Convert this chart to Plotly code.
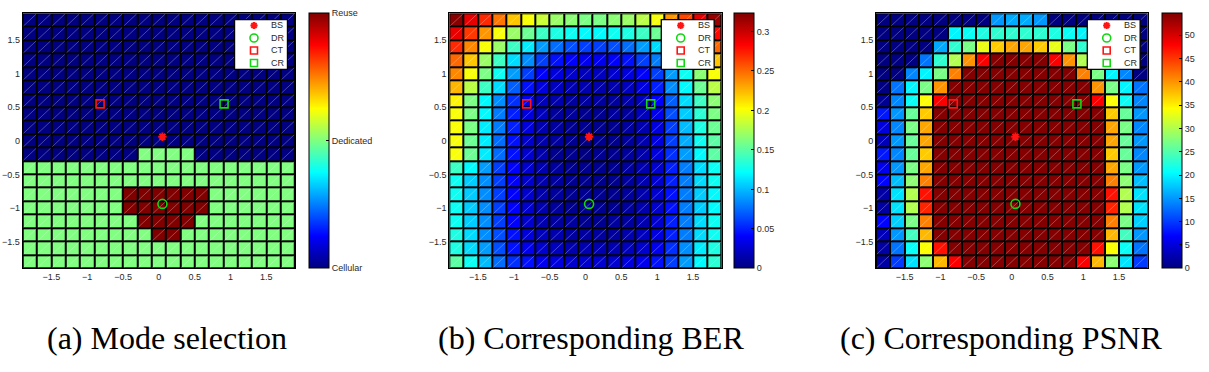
import plotly.graph_objects as go

W, H = 1209, 372

# ---------------- data ----------------
x_centers = [-1.8, -1.6, -1.4, -1.2, -1.0, -0.8, -0.6, -0.4, -0.2, 0.0,
             0.2, 0.4, 0.6, 0.8, 1.0, 1.2, 1.4, 1.6, 1.8]
y_centers = [1.8, 1.6, 1.4, 1.2, 1.0, 0.8, 0.6, 0.4, 0.2, 0.0,
             -0.2, -0.4, -0.6, -0.8, -1.0, -1.2, -1.4, -1.6, -1.8]
cell_size = 0.2

# 0 = Cellular, 1 = Dedicated, 2 = Reuse (rows from top y=1.8 to bottom y=-1.8)
mode_rows = [
    [0, 0, 0, 0, 0, 0, 0, 0, 0, 0, 0, 0, 0, 0, 0, 0, 0, 0, 0],
    [0, 0, 0, 0, 0, 0, 0, 0, 0, 0, 0, 0, 0, 0, 0, 0, 0, 0, 0],
    [0, 0, 0, 0, 0, 0, 0, 0, 0, 0, 0, 0, 0, 0, 0, 0, 0, 0, 0],
    [0, 0, 0, 0, 0, 0, 0, 0, 0, 0, 0, 0, 0, 0, 0, 0, 0, 0, 0],
    [0, 0, 0, 0, 0, 0, 0, 0, 0, 0, 0, 0, 0, 0, 0, 0, 0, 0, 0],
    [0, 0, 0, 0, 0, 0, 0, 0, 0, 0, 0, 0, 0, 0, 0, 0, 0, 0, 0],
    [0, 0, 0, 0, 0, 0, 0, 0, 0, 0, 0, 0, 0, 0, 0, 0, 0, 0, 0],
    [0, 0, 0, 0, 0, 0, 0, 0, 0, 0, 0, 0, 0, 0, 0, 0, 0, 0, 0],
    [0, 0, 0, 0, 0, 0, 0, 0, 0, 0, 0, 0, 0, 0, 0, 0, 0, 0, 0],
    [0, 0, 0, 0, 0, 0, 0, 0, 0, 0, 0, 0, 0, 0, 0, 0, 0, 0, 0],
    [0, 0, 0, 0, 0, 0, 0, 0, 1, 1, 1, 1, 0, 0, 0, 0, 0, 0, 0],
    [1, 1, 1, 1, 1, 1, 1, 1, 1, 1, 1, 1, 1, 1, 1, 1, 1, 1, 1],
    [1, 1, 1, 1, 1, 1, 1, 1, 1, 1, 1, 1, 1, 1, 1, 1, 1, 1, 1],
    [1, 1, 1, 1, 1, 1, 1, 2, 2, 2, 2, 2, 2, 1, 1, 1, 1, 1, 1],
    [1, 1, 1, 1, 1, 1, 1, 2, 2, 2, 2, 2, 2, 1, 1, 1, 1, 1, 1],
    [1, 1, 1, 1, 1, 1, 1, 1, 2, 2, 2, 2, 1, 1, 1, 1, 1, 1, 1],
    [1, 1, 1, 1, 1, 1, 1, 1, 1, 2, 2, 1, 1, 1, 1, 1, 1, 1, 1],
    [1, 1, 1, 1, 1, 1, 1, 1, 1, 1, 1, 1, 1, 1, 1, 1, 1, 1, 1],
    [1, 1, 1, 1, 1, 1, 1, 1, 1, 1, 1, 1, 1, 1, 1, 1, 1, 1, 1],
]

ber_rows = [
    [0.32, 0.29, 0.27, 0.245, 0.22, 0.2, 0.185, 0.17, 0.165, 0.16, 0.16, 0.165, 0.17, 0.18, 0.2, 0.235, 0.26, 0.29, 0.315],
    [0.29, 0.265, 0.235, 0.2, 0.17, 0.155, 0.14, 0.13, 0.125, 0.12, 0.12, 0.125, 0.13, 0.14, 0.155, 0.18, 0.21, 0.25, 0.28],
    [0.27, 0.24, 0.2, 0.17, 0.14, 0.115, 0.09, 0.075, 0.065, 0.06, 0.06, 0.065, 0.075, 0.09, 0.11, 0.14, 0.17, 0.21, 0.25],
    [0.25, 0.22, 0.17, 0.14, 0.11, 0.085, 0.06, 0.045, 0.04, 0.035, 0.035, 0.04, 0.045, 0.06, 0.08, 0.11, 0.14, 0.18, 0.22],
    [0.24, 0.2, 0.16, 0.125, 0.09, 0.06, 0.04, 0.03, 0.025, 0.02, 0.02, 0.025, 0.03, 0.04, 0.06, 0.09, 0.125, 0.165, 0.2],
    [0.225, 0.18, 0.14, 0.11, 0.07, 0.045, 0.03, 0.02, 0.015, 0.015, 0.015, 0.015, 0.02, 0.03, 0.05, 0.085, 0.12, 0.155, 0.18],
    [0.205, 0.16, 0.12, 0.085, 0.055, 0.035, 0.02, 0.015, 0.01, 0.01, 0.01, 0.01, 0.015, 0.02, 0.04, 0.07, 0.11, 0.14, 0.165],
    [0.2, 0.16, 0.12, 0.08, 0.05, 0.03, 0.02, 0.01, 0.01, 0.005, 0.005, 0.01, 0.01, 0.02, 0.035, 0.065, 0.105, 0.135, 0.16],
    [0.2, 0.16, 0.115, 0.08, 0.05, 0.03, 0.015, 0.01, 0.005, 0.005, 0.005, 0.005, 0.01, 0.015, 0.03, 0.06, 0.1, 0.13, 0.155],
    [0.2, 0.155, 0.115, 0.075, 0.045, 0.025, 0.015, 0.01, 0.005, 0.0, 0.005, 0.005, 0.01, 0.015, 0.03, 0.06, 0.095, 0.125, 0.15],
    [0.2, 0.155, 0.115, 0.075, 0.045, 0.025, 0.015, 0.005, 0.005, 0.0, 0.005, 0.005, 0.01, 0.015, 0.03, 0.055, 0.09, 0.12, 0.15],
    [0.14, 0.12, 0.09, 0.06, 0.04, 0.025, 0.015, 0.01, 0.005, 0.005, 0.005, 0.005, 0.01, 0.015, 0.025, 0.05, 0.08, 0.11, 0.125],
    [0.125, 0.105, 0.085, 0.06, 0.04, 0.025, 0.015, 0.01, 0.005, 0.005, 0.005, 0.005, 0.01, 0.015, 0.025, 0.05, 0.08, 0.11, 0.125],
    [0.125, 0.105, 0.085, 0.06, 0.04, 0.025, 0.015, 0.01, 0.005, 0.005, 0.005, 0.005, 0.01, 0.015, 0.025, 0.045, 0.08, 0.105, 0.12],
    [0.125, 0.105, 0.085, 0.06, 0.04, 0.025, 0.015, 0.01, 0.005, 0.005, 0.005, 0.005, 0.01, 0.015, 0.025, 0.045, 0.08, 0.105, 0.12],
    [0.125, 0.105, 0.085, 0.06, 0.04, 0.025, 0.015, 0.01, 0.01, 0.005, 0.005, 0.01, 0.01, 0.015, 0.025, 0.05, 0.08, 0.11, 0.125],
    [0.13, 0.11, 0.085, 0.065, 0.045, 0.03, 0.02, 0.015, 0.01, 0.01, 0.01, 0.01, 0.015, 0.02, 0.03, 0.05, 0.08, 0.11, 0.125],
    [0.13, 0.11, 0.09, 0.065, 0.045, 0.035, 0.025, 0.02, 0.015, 0.015, 0.015, 0.015, 0.02, 0.025, 0.035, 0.055, 0.085, 0.115, 0.13],
    [0.15, 0.125, 0.1, 0.075, 0.055, 0.045, 0.035, 0.03, 0.025, 0.025, 0.025, 0.025, 0.03, 0.035, 0.045, 0.06, 0.09, 0.12, 0.135],
]

psnr_rows = [
    [0, 0, 0, 0, 0, 0, 0, 0, 15, 16, 16, 15, 0, 0, 0, 0, 0, 0, 0],
    [0, 0, 0, 0, 0, 20, 21, 22, 23, 23, 23, 23, 22, 21, 20, 0, 0, 0, 0],
    [0, 0, 0, 0, 16, 23, 27, 33, 37, 39, 39, 37, 33, 27, 23, 16, 0, 0, 0],
    [0, 0, 0, 13, 23, 30, 40, 48, 54.5, 54.5, 54.5, 54.5, 48, 40, 30, 23, 13, 0, 0],
    [0, 0, 14, 20, 27, 41, 54.5, 54.5, 54.5, 54.5, 54.5, 54.5, 54.5, 54.5, 41, 27, 20, 14, 0],
    [0, 13, 20, 27, 40, 54.5, 54.5, 54.5, 54.5, 54.5, 54.5, 54.5, 54.5, 54.5, 54.5, 40, 27, 20, 13],
    [1, 14, 21, 34, 48, 54.5, 54.5, 54.5, 54.5, 54.5, 54.5, 54.5, 54.5, 54.5, 54.5, 48, 34, 21, 14],
    [8, 15, 26, 37, 54.5, 54.5, 54.5, 54.5, 54.5, 54.5, 54.5, 54.5, 54.5, 54.5, 54.5, 54.5, 37, 26, 15],
    [5, 14, 27, 39, 54.5, 54.5, 54.5, 54.5, 54.5, 54.5, 54.5, 54.5, 54.5, 54.5, 54.5, 54.5, 39, 27, 14],
    [3, 15, 26, 39, 54.5, 54.5, 54.5, 54.5, 54.5, 54.5, 54.5, 54.5, 54.5, 54.5, 54.5, 54.5, 39, 26, 15],
    [8, 14, 26, 37, 54.5, 54.5, 54.5, 54.5, 54.5, 54.5, 54.5, 54.5, 54.5, 54.5, 54.5, 54.5, 37, 26, 14],
    [6, 15, 27, 39, 54.5, 54.5, 54.5, 54.5, 54.5, 54.5, 54.5, 54.5, 54.5, 54.5, 54.5, 54.5, 39, 27, 15],
    [7, 17, 28, 41, 54.5, 54.5, 54.5, 54.5, 54.5, 54.5, 54.5, 54.5, 54.5, 54.5, 54.5, 54.5, 41, 28, 17],
    [2, 19, 30, 47, 54.5, 54.5, 54.5, 54.5, 54.5, 54.5, 54.5, 54.5, 54.5, 54.5, 54.5, 54.5, 47, 30, 19],
    [2, 19, 30, 46, 54.5, 54.5, 54.5, 54.5, 54.5, 54.5, 54.5, 54.5, 54.5, 54.5, 54.5, 54.5, 46, 30, 19],
    [7, 18, 27, 41, 54.5, 54.5, 54.5, 54.5, 54.5, 54.5, 54.5, 54.5, 54.5, 54.5, 54.5, 54.5, 41, 27, 18],
    [3, 15, 24, 38, 54.5, 54.5, 54.5, 54.5, 54.5, 54.5, 54.5, 54.5, 54.5, 54.5, 54.5, 54.5, 38, 24, 15],
    [2, 13, 21, 34, 47, 54.5, 54.5, 54.5, 54.5, 54.5, 54.5, 54.5, 54.5, 54.5, 54.5, 47, 34, 21, 13],
    [2, 10, 19, 28, 38, 48, 54.5, 54.5, 54.5, 54.5, 54.5, 54.5, 54.5, 54.5, 48, 38, 28, 19, 10],
]

# node positions
bs_x, bs_y = [0.05], [0.06]
dr_x, dr_y = [0.05], [-0.94]
ct_x, ct_y = [-0.82], [0.55]
cr_x, cr_y = [0.91], [0.55]
legend_labels = ["BS", "DR", "CT", "CR"]

axis_ticks = [-1.5, -1, -0.5, 0, 0.5, 1, 1.5]
mode_ticks = [0, 1, 2]
mode_ticktext = ["Cellular", "Dedicated", "Reuse"]
ber_ticks = [0, 0.05, 0.1, 0.15, 0.2, 0.25, 0.3]
ber_range = [0, 0.323]
psnr_ticks = [0, 5, 10, 15, 20, 25, 30, 35, 40, 45, 50]
psnr_range = [0, 54.7]
mode_range = [0, 2]
captions = ["(a) Mode selection", "(b) Corresponding BER", "(c) Corresponding PSNR"]

# ---------------- style / layout ----------------
JET = [[0.0, "rgb(0,0,128)"], [0.125, "rgb(0,0,255)"], [0.375, "rgb(0,255,255)"],
       [0.625, "rgb(255,255,0)"], [0.875, "rgb(255,0,0)"], [1.0, "rgb(128,0,0)"]]
RED = "rgb(255,20,20)"
GREEN = "rgb(20,215,20)"
TICKFONT = dict(family="Liberation Sans, Arial, sans-serif", size=9, color="#2a2a2a")

plot_lr = [(22.7, 295.0), (449.3, 721.7), (876.0, 1147.7)]
plot_top, plot_bottom = 13.3, 268.3
cbar_left = [309.0, 734.3, 1161.7]
caption_left = [45, 436, 838]
caption_mid_y = 338
leg_w, leg_h, leg_right_gap, leg_top = 54, 51, 7, 19
leg_marker_x, leg_text_x = 20, 35
leg_rows_y = [6.5, 19, 31.5, 44]


def fx(p):
    return p / W


def fy(p):
    return 1 - p / H


fig = go.Figure()
layout = dict(
    width=W, height=H, margin=dict(l=0, r=0, t=0, b=0),
    paper_bgcolor="white", plot_bgcolor="black", showlegend=False,
    annotations=[],
)

panels = [
    (mode_rows, mode_range, mode_ticks, mode_ticktext),
    (ber_rows, ber_range, ber_ticks, None),
    (psnr_rows, psnr_range, psnr_ticks, None),
]

half = cell_size / 2
inset = 0.012
diag_x, diag_y = [], []
for yc in y_centers:
    for xc in x_centers:
        diag_x += [xc - half + inset, xc + half - inset, None]
        diag_y += [yc - half + inset, yc + half - inset, None]

marker_specs = [
    (bs_x, bs_y, "asterisk-open", 7, RED, 2.0),
    (dr_x, dr_y, "circle-open", 9, GREEN, 1.6),
    (ct_x, ct_y, "square-open", 8, RED, 1.6),
    (cr_x, cr_y, "square-open", 8, GREEN, 1.6),
]

for k, (rows, zr, tv, tt) in enumerate(panels):
    n = k + 1
    xa = "x" if n == 1 else f"x{n}"
    ya = "y" if n == 1 else f"y{n}"
    left, right = plot_lr[k]
    cb = dict(
        x=fx(cbar_left[k]), xanchor="left", xpad=0, ypad=0,
        y=fy(plot_bottom), yanchor="bottom", len=(plot_bottom - plot_top) / H, lenmode="fraction",
        thickness=20, thicknessmode="pixels", outlinecolor="black", outlinewidth=1,
        ticks="inside", ticklen=3, tickcolor="black", tickvals=tv, tickfont=TICKFONT,
    )
    if tt is not None:
        cb["ticktext"] = tt
    fig.add_trace(go.Heatmap(
        z=rows, x=x_centers, y=y_centers, zmin=zr[0], zmax=zr[1],
        colorscale=JET, xgap=2, ygap=2, colorbar=cb, xaxis=xa, yaxis=ya,
        hoverinfo="skip",
    ))
    fig.add_trace(go.Scatter(
        x=diag_x, y=diag_y, mode="lines", xaxis=xa, yaxis=ya,
        line=dict(color="rgba(255,255,255,0.28)", width=1), hoverinfo="skip",
    ))
    for mx, my, sym, size, col, lw in marker_specs:
        fig.add_trace(go.Scatter(
            x=mx, y=my, mode="markers", xaxis=xa, yaxis=ya,
            marker=dict(symbol=sym, size=size, color=col, line=dict(color=col, width=lw)),
        ))
    axkey = "xaxis" if n == 1 else f"xaxis{n}"
    aykey = "yaxis" if n == 1 else f"yaxis{n}"
    layout[axkey] = dict(
        domain=[fx(left), fx(right)], range=[-1.9, 1.9], anchor=ya,
        tickvals=axis_ticks, tickfont=TICKFONT, showgrid=False, zeroline=False,
        showline=True, linecolor="black", linewidth=1, mirror=True, ticks="",
    )
    layout[aykey] = dict(
        domain=[fy(plot_bottom), fy(plot_top)], range=[-1.9, 1.9], anchor=xa,
        tickvals=axis_ticks, tickfont=TICKFONT, showgrid=False, zeroline=False,
        showline=True, linecolor="black", linewidth=1, mirror=True, ticks="",
    )

    # legend drawn in its own small overlay axes (pixel units)
    ln = n + 3
    lxa, lya = f"x{ln}", f"y{ln}"
    box_r = right - leg_right_gap
    box_l = box_r - leg_w
    layout[f"xaxis{ln}"] = dict(domain=[fx(box_l), fx(box_r)], range=[0, leg_w], anchor=lya,
                                visible=False, fixedrange=True)
    layout[f"yaxis{ln}"] = dict(domain=[fy(leg_top + leg_h), fy(leg_top)], range=[leg_h, 0], anchor=lxa,
                                visible=False, fixedrange=True)
    fig.add_trace(go.Scatter(
        x=[0.6, leg_w - 0.6, leg_w - 0.6, 0.6, 0.6], y=[0.6, 0.6, leg_h - 0.6, leg_h - 0.6, 0.6],
        mode="lines", fill="toself", fillcolor="white", line=dict(color="black", width=1.2),
        xaxis=lxa, yaxis=lya, hoverinfo="skip",
    ))
    for (mx, my, sym, size, col, lw), ry, lab in zip(marker_specs, leg_rows_y, legend_labels):
        fig.add_trace(go.Scatter(
            x=[leg_marker_x], y=[ry], mode="markers", xaxis=lxa, yaxis=lya,
            marker=dict(symbol=sym, size=size - 1, color=col, line=dict(color=col, width=lw)),
            hoverinfo="skip",
        ))
        layout["annotations"].append(dict(
            x=leg_text_x, y=ry, xref=lxa, yref=lya, text=lab, showarrow=False,
            xanchor="left", yanchor="middle", font=TICKFONT,
        ))

    layout["annotations"].append(dict(
        x=fx(caption_left[k]), y=fy(caption_mid_y), xref="paper", yref="paper",
        text=captions[k], showarrow=False, xanchor="left", yanchor="middle",
        font=dict(family="Liberation Serif, Times New Roman, serif", size=32, color="black"),
    ))

fig.update_layout(**layout)
fig.write_html("out.html")
